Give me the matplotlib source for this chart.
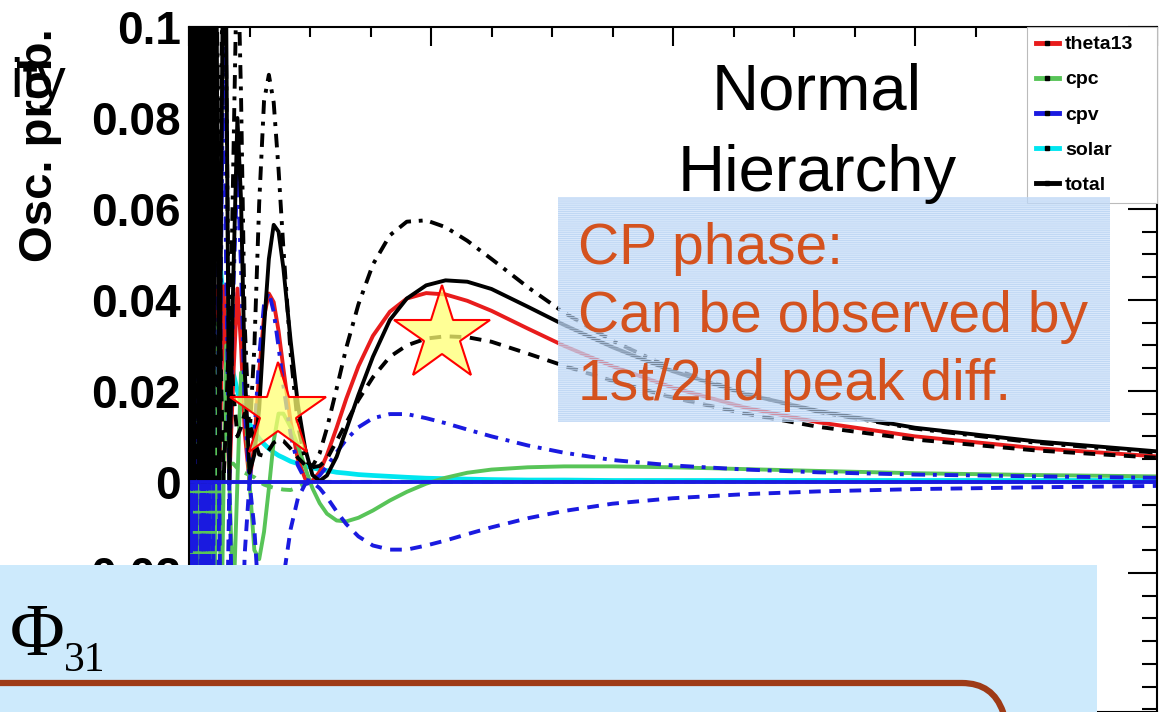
import matplotlib
matplotlib.use('Agg')
import matplotlib.pyplot as plt
import matplotlib.transforms as mtransforms
from matplotlib.lines import Line2D
from matplotlib.patches import Rectangle, PathPatch
from matplotlib.path import Path
from matplotlib.ticker import MultipleLocator

plt.rcParams['font.family'] = ['Liberation Sans', 'DejaVu Sans']
plt.rcParams['hatch.linewidth'] = 0.6

# neutrino energy (axis units): left edge = 0, right edge = 4
energy = [0.004, 0.008, 0.012, 0.016, 0.02, 0.03, 0.04, 0.045, 0.05, 0.0526,
          0.0556, 0.0588, 0.0625, 0.0667, 0.0714, 0.0769, 0.0833, 0.0909, 0.1, 0.105,
          0.1111, 0.118, 0.125, 0.134, 0.1429, 0.154, 0.1667, 0.183, 0.2, 0.215,
          0.23, 0.25, 0.27, 0.29, 0.31, 0.33, 0.35, 0.37, 0.39, 0.42,
          0.45, 0.48, 0.51, 0.54, 0.57, 0.61, 0.65, 0.70, 0.76, 0.83,
          0.90, 0.98, 1.06, 1.15, 1.25, 1.40, 1.55, 1.75, 2.0, 2.3,
          2.6, 3.0, 3.5, 4.0]

theta13 = [0.040, 0.0, 0.042, 0.0, 0.040, 0.002, 0.043, 0.030, 0.0, 0.043,
           0.0, 0.043, 0.0, 0.043, 0.0, 0.043, 0.0, 0.043, 0.0, 0.020,
           0.043, 0.020, 0.0, 0.024, 0.043, 0.021, 0.0, 0.023, 0.0425, 0.030,
           0.011, 0.0, 0.0083, 0.0241, 0.0364, 0.0414, 0.0395, 0.0332, 0.0249, 0.0132,
           0.0049, 0.0007, 0.0002, 0.0022, 0.0059, 0.0119, 0.0183, 0.0254, 0.0321, 0.0374,
           0.0403, 0.0415, 0.0412, 0.0398, 0.0376, 0.0337, 0.0299, 0.0254, 0.0207, 0.0163,
           0.0131, 0.0100, 0.0074, 0.0056]

cpc = [0.0, -0.04, 0.03, -0.045, 0.0, -0.03, 0.03, -0.045, 0.035, -0.05,
       0.04, -0.05, 0.035, -0.05, 0.03, -0.05, 0.03, -0.05, 0.02, -0.045,
       0.0, 0.035, 0.0, -0.035, 0.0, 0.03, 0.0, -0.028, 0.0, 0.024,
       0.02, 0.0, -0.0150, -0.0170, -0.0110, -0.0015, 0.0090, 0.0150, 0.0150, 0.0120,
       0.0080, 0.0031, -0.0014, -0.0047, -0.0070, -0.0085, -0.0087, -0.0079, -0.0063, -0.0041,
       -0.0022, -0.0004, 0.0009, 0.0020, 0.0027, 0.0032, 0.0034, 0.0034, 0.0032, 0.0028,
       0.0024, 0.0019, 0.0015, 0.0012]

cpc_alt = [0.010, -0.010, 0.010, -0.010, 0.008, -0.008, 0.008, -0.008, 0.006, -0.006,
           0.006, -0.006, 0.005, -0.005, 0.005, -0.005, 0.004, -0.004, 0.003, -0.003,
           0.002, -0.002, 0.002, 0.0, 0.003, 0.004, 0.004, 0.004, 0.003, 0.0025,
           0.002, 0.0015, 0.001, 0.0, -0.0006, -0.001, -0.0013, -0.0015, -0.0017, -0.0018,
           -0.0012, -0.0004, 0.0, 0.0, 0.0, 0.0, 0.0, 0.0, 0.0, 0.0,
           0.0, 0.0, 0.0, 0.0, 0.0, 0.0, 0.0, 0.0, 0.0, 0.0,
           0.0, 0.0, 0.0, 0.0]

solar = [0.12, 0.06, 0.12, 0.07, 0.12, 0.08, 0.12, 0.09, 0.12, 0.10,
         0.12, 0.10, 0.12, 0.11, 0.12, 0.11, 0.115, 0.097, 0.080, 0.072,
         0.065, 0.057, 0.051, 0.0445, 0.039, 0.0337, 0.0288, 0.0239, 0.020, 0.0173,
         0.0151, 0.0128, 0.0110, 0.0095, 0.0083, 0.0073, 0.0065, 0.0058, 0.0053, 0.0045,
         0.0040, 0.0035, 0.0031, 0.0027, 0.0025, 0.0021, 0.0019, 0.0016, 0.0014, 0.0012,
         0.0010, 0.0008, 0.0007, 0.0006, 0.0005, 0.0004, 0.0004, 0.0003, 0.0003, 0.0003,
         0.0003, 0.0003, 0.0003, 0.0003]

cpv_pos = [0.13, -0.02, 0.13, 0.0, 0.13, 0.0, 0.13, 0.06, 0.0, 0.13,
           0.0, 0.13, 0.0, 0.13, 0.0, 0.13, 0.0, 0.125, 0.0, 0.061,
           0.124, 0.054, 0.0, 0.057, 0.096, 0.044, 0.0, 0.042, 0.069, 0.047,
           0.016, 0.0, 0.0102, 0.0276, 0.0390, 0.0417, 0.0374, 0.0297, 0.0212, 0.0104,
           0.0036, 0.0005, 0.0001, 0.0014, 0.0034, 0.0065, 0.0093, 0.0120, 0.0140, 0.0149,
           0.0149, 0.0140, 0.0129, 0.0115, 0.0100, 0.0080, 0.0064, 0.0048, 0.0036, 0.0027,
           0.0021, 0.0016, 0.0012, 0.0009]

cpv_neg = [-0.13, 0.02, -0.13, 0.0, -0.13, 0.0, -0.13, -0.06, 0.0, -0.13,
           0.0, -0.13, 0.0, -0.13, 0.0, -0.13, 0.0, -0.125, 0.0, -0.061,
           -0.124, -0.054, 0.0, -0.057, -0.096, -0.044, 0.0, -0.042, -0.069, -0.047,
           -0.016, 0.0, -0.0102, -0.0276, -0.0390, -0.0417, -0.0374, -0.0297, -0.0212, -0.0104,
           -0.0036, -0.0005, -0.0001, -0.0014, -0.0034, -0.0065, -0.0093, -0.0120, -0.0140, -0.0149,
           -0.0149, -0.0140, -0.0129, -0.0115, -0.0100, -0.0080, -0.0064, -0.0048, -0.0036, -0.0027,
           -0.0021, -0.0016, -0.0012, -0.0009]

cpv_zero = [0.0] * len(energy)

total = [0.0, 0.13, 0.0, 0.13, 0.0, 0.13, 0.0, 0.13, 0.0, 0.13,
         0.0, 0.13, 0.0, 0.13, 0.0, 0.13, 0.0, 0.13, 0.0, 0.06,
         0.13, 0.07, 0.0, 0.07, 0.13, 0.10, 0.0, 0.045, 0.080, 0.062,
         0.025, 0.002, 0.006, 0.016, 0.034, 0.049, 0.0565, 0.055, 0.047, 0.031,
         0.017, 0.0073, 0.0015, 0.0002, 0.0014, 0.0055, 0.0115, 0.0191, 0.0275, 0.0356,
         0.0403, 0.0432, 0.0443, 0.0440, 0.0424, 0.0385, 0.0345, 0.0296, 0.0243, 0.0193,
         0.0156, 0.0119, 0.0089, 0.0067]

total_dm90 = [0.0, 0.13, 0.0, 0.13, 0.01, 0.13, 0.01, 0.13, 0.02, 0.13,
              0.02, 0.13, 0.02, 0.13, 0.02, 0.13, 0.02, 0.13, 0.02, 0.08,
              0.13, 0.09, 0.02, 0.09, 0.13, 0.09, 0.02, 0.07, 0.12, 0.085,
              0.035, 0.010, 0.0295, 0.0612, 0.0837, 0.0895, 0.0834, 0.0687, 0.0514, 0.0281,
              0.0125, 0.0047, 0.0034, 0.0063, 0.0118, 0.0205, 0.0295, 0.0390, 0.0478, 0.0542,
              0.0572, 0.0575, 0.0560, 0.0530, 0.0490, 0.0428, 0.0372, 0.0310, 0.0248, 0.0194,
              0.0154, 0.0117, 0.0086, 0.0064]

total_dp90 = [0.13, 0.0, 0.13, 0.0, 0.12, 0.0, 0.11, 0.0, 0.10, 0.0,
              0.09, 0.0, 0.08, 0.0, 0.07, 0.0, 0.06, 0.0, 0.05, 0.03,
              0.0, 0.02, 0.045, 0.02, 0.0, 0.015, 0.035, 0.02, 0.01, 0.012,
              0.015, 0.0128, 0.0091, 0.0060, 0.0057, 0.0070, 0.0086, 0.0093, 0.0090, 0.0073,
              0.0053, 0.0037, 0.0032, 0.0035, 0.0050, 0.0090, 0.0130, 0.0180, 0.0230, 0.0275,
              0.0300, 0.0315, 0.0320, 0.0318, 0.0308, 0.0282, 0.0255, 0.0222, 0.0185, 0.0150,
              0.0121, 0.0093, 0.0069, 0.0053]

legend_labels = ['theta13', 'cpc', 'cpv', 'solar', 'total']
ytick_vals = [-0.02, 0.0, 0.02, 0.04, 0.06, 0.08, 0.1]
ytick_labels = ['-0.02', '0', '0.02', '0.04', '0.06', '0.08', '0.1']
star_energy = [0.368, 1.045]
star_prob = [0.0154, 0.0323]

RED, GREEN, BLUE, CYAN = '#e81c1c', '#58c458', '#1a1ae0', '#00e6f0'
DASH = (3.0, 2.2)
DASHDOT = (3.5, 2.0, 1.0, 2.0)
LW = 2.8

W, H = 1162, 712
fig = plt.figure(figsize=(W / 100, H / 100), dpi=100)
ax = fig.add_axes([189 / W, 0, (1157 - 189) / W, (712 - 27) / H])
# pixel coordinates of the slide (origin top-left)
px = mtransforms.Affine2D().scale(1 / W, -1 / H).translate(0, 1) + fig.transFigure

ax.plot(energy, solar, color=CYAN, lw=LW + 0.6)
ax.plot(energy, theta13, color=RED, lw=LW)
ax.plot(energy, cpc, color=GREEN, lw=LW)
ax.plot(energy, cpc_alt, color=GREEN, lw=LW, dashes=DASH)
ax.plot(energy, cpv_pos, color=BLUE, lw=LW, dashes=DASHDOT)
ax.plot(energy, cpv_neg, color=BLUE, lw=LW, dashes=DASH)
ax.plot(energy, total_dm90, color='k', lw=LW, dashes=DASHDOT)
ax.plot(energy, total_dp90, color='k', lw=LW, dashes=DASH)
ax.plot(energy, total, color='k', lw=LW)
ax.plot(energy, cpv_zero, color=BLUE, lw=LW)

ax.plot(star_energy, star_prob, ls='none', marker='*', ms=72,
        mfc=(1, 1, 0.45, 0.75), mec='red', mew=1.5, zorder=6, clip_on=False)

ax.set_xlim(0, 4)
ax.set_ylim(-0.0506, 0.1)
ax.xaxis.set_major_locator(MultipleLocator(1))
ax.xaxis.set_minor_locator(MultipleLocator(0.25))
ax.tick_params(axis='x', which='both', direction='in', top=True, bottom=False,
               labelbottom=False, width=1.5)
ax.tick_params(axis='x', which='major', length=14)
ax.tick_params(axis='x', which='minor', length=7)
ax.set_yticks(ytick_vals, ytick_labels)
ax.yaxis.set_minor_locator(MultipleLocator(0.005))
ax.tick_params(axis='y', which='both', direction='in', left=True, right=True,
               width=1.5, pad=6, labelsize=33)
ax.tick_params(axis='y', which='major', length=21)
ax.tick_params(axis='y', which='minor', length=11)
for lab in ax.get_yticklabels():
    lab.set_fontweight('bold')
for s in ax.spines.values():
    s.set_linewidth(1.5)

handles = [Line2D([], [], color=c, lw=3.5, marker='s', ms=2.5, mfc='k', mec='k')
           for c in [RED, GREEN, BLUE, CYAN, 'k']]
leg = ax.legend(handles, legend_labels, loc='upper left', mode='expand',
                bbox_to_anchor=(1027 / W, 1 - 200 / H, 130 / W, 173 / H),
                bbox_transform=fig.transFigure, borderaxespad=0, borderpad=0.45,
                handlelength=1.2, handletextpad=0.3, labelspacing=0.9,
                prop={'size': 14, 'weight': 'bold'}, fancybox=False,
                framealpha=1, facecolor='white', edgecolor='#bbbbbb')
leg.get_frame().set_linewidth(0.8)

fig.text(40 / W, 1 - 145 / H, 'Osc. prob.', rotation=90, ha='center', va='center',
         fontsize=34, fontweight='bold')
fig.text(66 / W, 1 - 97 / H, 'ity', ha='right', va='baseline', fontsize=40)

fig.text(817 / W, 1 - 109 / H, 'Normal', ha='center', va='baseline', fontsize=47)
fig.text(817 / W, 1 - 191 / H, 'Hierarchy', ha='center', va='baseline', fontsize=47)

fig.add_artist(Rectangle((558, 197), 552, 225, transform=px, zorder=3,
                         facecolor=(0.76, 0.86, 0.98, 0.62), edgecolor='#bcd5f3',
                         lw=0, hatch='--------'))
orange = '#d4521e'
for txt, base in [('CP phase:', 264), ('Can be observed by', 332), ('1st/2nd peak diff.', 400)]:
    fig.text(578 / W, 1 - base / H, txt, ha='left', va='baseline', fontsize=41,
             color=orange, zorder=4)

fig.add_artist(Rectangle((0, 565), 1097, 150, transform=px, zorder=5,
                         facecolor='#cdeafc', edgecolor='none'))
fig.text(10 / W, 1 - 655 / H, 'Φ', ha='left', va='baseline', fontsize=54,
         family='Liberation Serif', zorder=6)
fig.text(64 / W, 1 - 671 / H, '31', ha='left', va='baseline', fontsize=30,
         family='Liberation Serif', zorder=6)
brown = Path([(0, 683), (962, 683), (993, 683), (1003, 712), (1005, 725)],
             [Path.MOVETO, Path.LINETO, Path.CURVE3, Path.CURVE3, Path.LINETO])
fig.add_artist(PathPatch(brown, transform=px, fill=False, edgecolor='#9e3b17',
                         lw=4.5, capstyle='butt', zorder=6))

fig.savefig('out.png', dpi=100)
